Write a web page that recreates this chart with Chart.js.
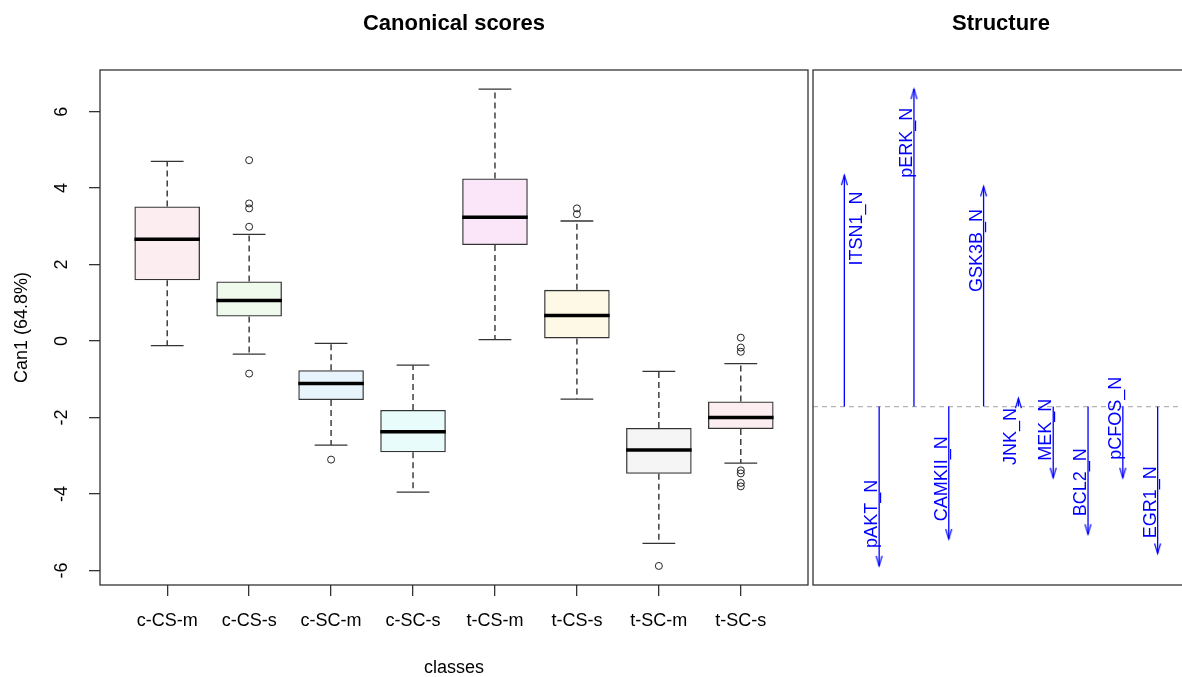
<!DOCTYPE html>
<html>
<head>
<meta charset="utf-8">
<script src="https://cdn.jsdelivr.net/npm/chart.js@4.4.1/dist/chart.umd.min.js"></script>
<style>
  body { margin: 0; background: #fff; overflow: hidden; width: 1182px; height: 677px; position: relative; }
  #scores { position: absolute; left: 0; top: 0; }
  #struct { position: absolute; left: 810px; top: 0; }
</style>
</head>
<body>
<canvas id="scores" width="810" height="677"></canvas>
<canvas id="struct" width="380" height="677"></canvas>
<script>
// canonical scores per class
var classes   = ['c-CS-m', 'c-CS-s', 'c-SC-m', 'c-SC-s', 't-CS-m', 't-CS-s', 't-SC-m', 't-SC-s'];
var whiskerLo = [-0.12, -0.34, -2.72, -3.95, 0.04, -1.52, -5.29, -3.19];
var q1        = [1.59, 0.64, -1.54, -2.91, 2.51, 0.07, -3.47, -2.30];
var median    = [2.66, 1.06, -1.11, -2.37, 3.24, 0.67, -2.85, -2.00];
var q3        = [3.52, 1.56, -0.76, -1.80, 4.25, 1.34, -2.27, -1.58];
var whiskerHi = [4.70, 2.79, -0.06, -0.63, 6.59, 3.14, -0.79, -0.59];
var outliers  = [[], [4.73, 3.60, 3.47, 2.99, -0.85], [-3.10], [], [], [3.47, 3.32], [-5.88],
                 [0.09, -0.17, -0.28, -3.38, -3.46, -3.71, -3.80]];
var yTicks = [-6, -4, -2, 0, 2, 4, 6];

// structure coefficients
var vars      = ['ITSN1_N', 'pAKT_N', 'pERK_N', 'CAMKII_N', 'GSK3B_N', 'JNK_N', 'MEK_N', 'BCL2_N', 'pCFOS_N', 'EGR1_N'];
var structure = [0.578, -0.398, 0.793, -0.331, 0.550, 0.021, -0.178, -0.319, -0.178, -0.367];
var labelY    = [0.445, -0.268, 0.659, -0.180, 0.390, -0.075, -0.058, -0.189, -0.029, -0.239];
var labelSide = [1, -1, -1, -1, -1, -1, -1, -1, -1, -1];

var boxFill = ['rgba(223,83,107,0.1)', 'rgba(97,208,79,0.1)', 'rgba(34,151,230,0.1)', 'rgba(40,226,229,0.1)',
               'rgba(205,11,188,0.1)', 'rgba(245,199,16,0.1)', 'rgba(158,158,158,0.1)', 'rgba(223,83,107,0.1)'];

var FONT = "'Liberation Sans', Arial, sans-serif";
Chart.defaults.font.family = FONT;
Chart.defaults.color = '#000';

// R style axis range: data range plus 4% each side
function pad4(lo, hi) { var d = (hi - lo) * 0.04; return [lo - d, hi + d]; }

var allY = whiskerLo.concat(whiskerHi, [].concat.apply([], outliers));
var yLim = pad4(Math.min.apply(null, allY), Math.max.apply(null, allY));
var xLim = pad4(0.5, classes.length + 0.5);

var boxData = [], medData = [], capData = [], whiskData = [], outData = [];
classes.forEach(function (c, i) {
    var x = i + 1;
    boxData.push({ x: x, y: [q1[i], q3[i]] });
    medData.push({ x: x, y: median[i] });
    capData.push({ x: x, y: whiskerHi[i] }, { x: x, y: whiskerLo[i] });
    whiskData.push({ x: x, y: q3[i] }, { x: x, y: whiskerHi[i] }, { x: x, y: null },
                   { x: x, y: q1[i] }, { x: x, y: whiskerLo[i] }, { x: x, y: null });
    outliers[i].forEach(function (v) { outData.push({ x: x, y: v }); });
});

// half length in pixels of a horizontal segment w units wide
function halfLen(chart, w) {
    var s = chart.scales.x;
    return Math.abs(s.getPixelForValue(1 + w) - s.getPixelForValue(1));
}

var framePlugin = {
    id: 'frame',
    afterDatasetsDraw: function (chart) {
        var a = chart.chartArea, c = chart.ctx;
        c.save();
        c.strokeStyle = '#333';
        c.lineWidth = 1.3;
        c.strokeRect(a.left, a.top, a.right - a.left, a.bottom - a.top);
        c.restore();
    }
};

var yLabelsPlugin = {
    id: 'yLabels',
    afterDraw: function (chart) {
        var s = chart.scales.y, c = chart.ctx;
        c.save();
        c.font = '18px ' + FONT;
        c.fillStyle = '#000';
        c.textAlign = 'center';
        c.textBaseline = 'alphabetic';
        s.ticks.forEach(function (t) {
            c.save();
            c.translate(s.right - 33, s.getPixelForValue(t.value));
            c.rotate(-Math.PI / 2);
            c.fillText(String(t.value), 0, 0);
            c.restore();
        });
        c.restore();
    }
};

new Chart(document.getElementById('scores'), {
    type: 'bar',
    data: {
        datasets: [{
            type: 'scatter',
            data: medData,
            pointStyle: 'line',
            pointRadius: function (ctx) { return halfLen(ctx.chart, 0.4); },
            pointBorderWidth: 3.5,
            pointBorderColor: '#000'
        }, {
            type: 'scatter',
            data: outData,
            pointStyle: 'circle',
            pointRadius: 3.5,
            pointBackgroundColor: 'rgba(0,0,0,0)',
            pointBorderColor: '#222',
            pointBorderWidth: 1
        }, {
            type: 'scatter',
            data: capData,
            pointStyle: 'line',
            pointRadius: function (ctx) { return halfLen(ctx.chart, 0.2); },
            pointBorderWidth: 1.3,
            pointBorderColor: '#333'
        }, {
            type: 'line',
            data: whiskData,
            borderColor: '#222',
            borderWidth: 1.3,
            borderDash: [6, 4],
            pointRadius: 0,
            spanGaps: false
        }, {
            data: boxData,
            backgroundColor: boxFill,
            borderColor: '#333',
            borderWidth: 1.3,
            borderSkipped: false,
            barPercentage: 0.8,
            categoryPercentage: 1
        }]
    },
    options: {
        responsive: false,
        animation: false,
        layout: { autoPadding: false, padding: { left: 0, right: 2, top: 0, bottom: 0 } },
        plugins: {
            legend: { display: false },
            tooltip: { enabled: false },
            title: {
                display: true,
                text: 'Canonical scores',
                fullSize: false,
                font: { size: 22, weight: 'bold' },
                padding: { top: 11, bottom: 32.6 }
            }
        },
        scales: {
            x: {
                type: 'linear',
                min: xLim[0],
                max: xLim[1],
                offset: false,
                afterBuildTicks: function (s) { s.ticks = classes.map(function (c, i) { return { value: i + 1 }; }); },
                afterFit: function (s) { s.height = 92; },
                grid: { offset: false, drawOnChartArea: false, drawTicks: true, tickLength: 11, color: '#333', lineWidth: 1.3 },
                border: { display: false },
                ticks: {
                    font: { size: 18 },
                    padding: 14,
                    maxRotation: 0,
                    callback: function (v) { return classes[v - 1]; }
                },
                title: { display: true, text: 'classes', font: { size: 18, lineHeight: 1 }, padding: { top: 0, bottom: 0 } }
            },
            y: {
                min: yLim[0],
                max: yLim[1],
                afterBuildTicks: function (s) { s.ticks = yTicks.map(function (v) { return { value: v }; }); },
                afterFit: function (s) { s.width = 100; },
                grid: { drawOnChartArea: false, drawTicks: true, tickLength: 11, color: '#333', lineWidth: 1.3 },
                border: { display: false },
                ticks: { display: false },
                title: { display: true, text: 'Can1 (64.8%)', font: { size: 18 }, padding: { top: 11, bottom: 0 } }
            }
        }
    },
    plugins: [framePlugin, yLabelsPlugin]
});

// ---- structure panel ----
var xLimS = pad4(0.5, vars.length + 0.5);
var yLimS = pad4(Math.min.apply(null, structure), Math.max.apply(null, structure));

var shaftData = [], headData = [];
vars.forEach(function (v, i) {
    shaftData.push({ x: i + 1, y: 0 }, { x: i + 1, y: structure[i] }, { x: i + 1, y: null });
    headData.push({ x: i + 1, y: structure[i] });
});

// open arrow head, apex at the centre of the image
var head = document.createElement('canvas');
head.width = 9; head.height = 24;
var hc = head.getContext('2d');
hc.strokeStyle = '#0000ff';
hc.lineWidth = 1.2;
hc.beginPath();
hc.moveTo(1.5, 22); hc.lineTo(4.5, 12); hc.lineTo(7.5, 22);
hc.stroke();

var varLabelsPlugin = {
    id: 'varLabels',
    afterDatasetsDraw: function (chart) {
        var sx = chart.scales.x, sy = chart.scales.y, c = chart.ctx;
        c.save();
        c.font = '18px ' + FONT;
        c.fillStyle = '#0000ff';
        c.textAlign = 'center';
        c.textBaseline = 'alphabetic';
        vars.forEach(function (v, i) {
            var x = sx.getPixelForValue(i + 1) + (labelSide[i] > 0 ? 18 : -2);
            c.save();
            c.translate(x, sy.getPixelForValue(labelY[i]));
            c.rotate(-Math.PI / 2);
            c.fillText(v, 0, 0);
            c.restore();
        });
        c.restore();
    }
};

new Chart(document.getElementById('struct'), {
    type: 'line',
    data: {
        datasets: [{
            data: headData,
            showLine: false,
            pointStyle: head,
            pointRadius: 5,
            rotation: function (ctx) { return structure[ctx.dataIndex] < 0 ? 180 : 0; }
        }, {
            data: shaftData,
            borderColor: '#0000ff',
            borderWidth: 1.3,
            pointRadius: 0,
            spanGaps: false
        }, {
            data: [{ x: xLimS[0], y: 0 }, { x: xLimS[1], y: 0 }],
            borderColor: '#b4b4b4',
            borderWidth: 1.2,
            borderDash: [5, 4],
            pointRadius: 0
        }]
    },
    options: {
        responsive: false,
        animation: false,
        layout: { autoPadding: false, padding: { left: 3, right: 1, top: 0, bottom: 92 } },
        plugins: {
            legend: { display: false },
            tooltip: { enabled: false },
            title: {
                display: true,
                text: 'Structure',
                fullSize: false,
                font: { size: 22, weight: 'bold' },
                padding: { top: 11, bottom: 32.6 }
            }
        },
        scales: {
            x: { type: 'linear', display: false, min: xLimS[0], max: xLimS[1] },
            y: { display: false, min: yLimS[0], max: yLimS[1] }
        }
    },
    plugins: [framePlugin, varLabelsPlugin]
});
</script>
</body>
</html>
